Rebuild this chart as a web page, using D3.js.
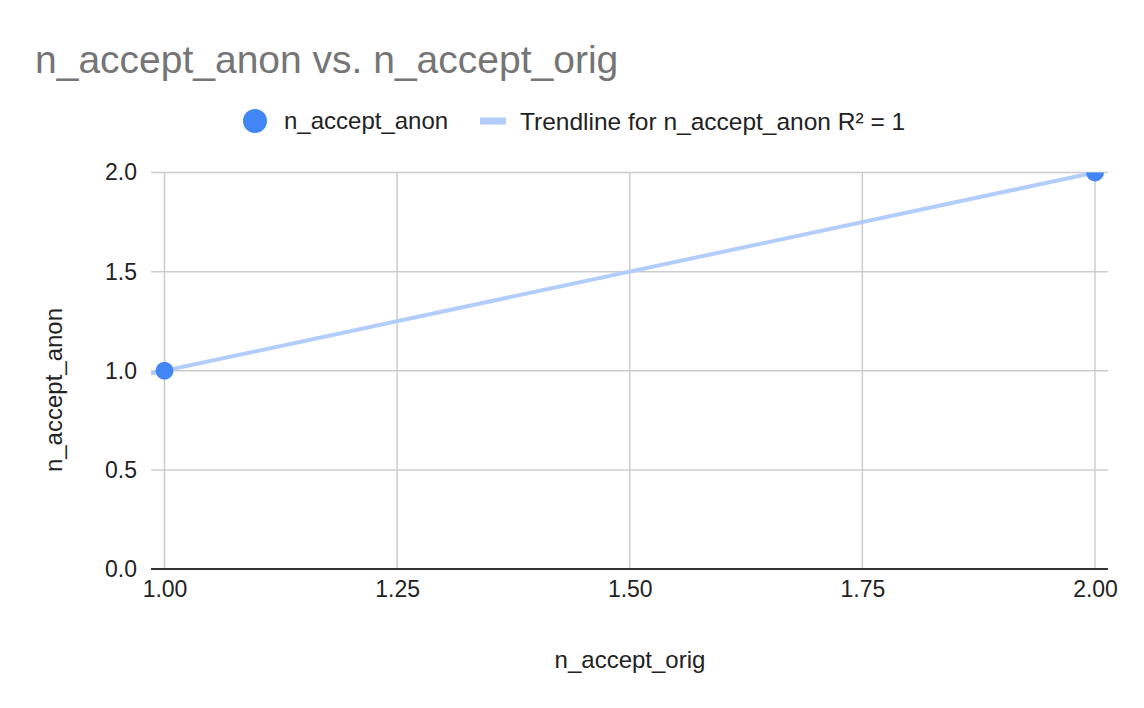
<!DOCTYPE html>
<html>
<head>
<meta charset="utf-8">
<script src="https://cdn.jsdelivr.net/npm/d3@7"></script>
<style>
  html, body { margin: 0; padding: 0; background: #fff; }
  svg { display: block; font-family: "Liberation Sans", Arial, sans-serif; }
</style>
</head>
<body>
<svg id="chart" width="1144" height="708"></svg>
<script>
// ---- data ----
const xValues = [1, 2];          // n_accept_orig
const yValues = [1, 2];          // n_accept_anon
const xTicks = [1.00, 1.25, 1.50, 1.75, 2.00];
const yTicks = [0, 0.5, 1.0, 1.5, 2.0];
const titleText = "n_accept_anon vs. n_accept_orig";
const seriesName = "n_accept_anon";
const trendName = "Trendline for n_accept_anon R² = 1";
const xTitle = "n_accept_orig";
const yTitle = "n_accept_anon";

// ---- layout ----
const W = 1144, H = 708;
const plot = { left: 151, right: 1108, top: 172.5, bottom: 569 };
const svg = d3.select("#chart");

const x = d3.scaleLinear().domain([1, 2]).range([164.5, 1095]);
const y = d3.scaleLinear().domain([0, 2]).range([569, 172.5]);

// title
svg.append("text").attr("x", 35).attr("y", 73)
  .attr("font-size", 39).attr("fill", "#757575").text(titleText);

// legend
const legY = 121;
svg.append("circle").attr("cx", 255).attr("cy", legY).attr("r", 12).attr("fill", "#4285f4");
svg.append("text").attr("x", 284).attr("y", legY).attr("dy", "0.35em")
  .attr("font-size", 24).attr("fill", "#222").text(seriesName);
svg.append("rect").attr("x", 480).attr("y", legY - 3.5).attr("width", 26).attr("height", 7)
  .attr("fill", "#b3cdfb");
svg.append("text").attr("x", 520).attr("y", legY).attr("dy", "0.35em")
  .attr("font-size", 24.5).attr("fill", "#222").text(trendName);

// clip
svg.append("defs").append("clipPath").attr("id", "clip")
  .append("rect").attr("x", plot.left).attr("y", plot.top)
  .attr("width", plot.right - plot.left).attr("height", plot.bottom - plot.top);

// gridlines
const grid = svg.append("g");
grid.selectAll(".hg").data(yTicks.filter(d => d !== 0)).enter().append("line")
  .attr("x1", plot.left).attr("x2", plot.right)
  .attr("y1", d => y(d)).attr("y2", d => y(d))
  .attr("stroke", "#cccccc").attr("stroke-width", 1.5);
grid.selectAll(".vg").data(xTicks).enter().append("line")
  .attr("x1", d => x(d)).attr("x2", d => x(d))
  .attr("y1", plot.top).attr("y2", plot.bottom)
  .attr("stroke", "#cccccc").attr("stroke-width", 1.5);

// axes labels via d3 axes
const yAxis = svg.append("g").attr("transform", `translate(${plot.left - 14},0)`)
  .call(d3.axisLeft(y).tickValues(yTicks).tickFormat(d3.format(".1f")).tickSize(0).tickPadding(0));
yAxis.select(".domain").remove();
yAxis.selectAll("text").attr("font-size", 23).attr("fill", "#222")
  .attr("font-family", "Liberation Sans, Arial, sans-serif");

const xAxis = svg.append("g").attr("transform", `translate(0,${plot.bottom + 12})`)
  .call(d3.axisBottom(x).tickValues(xTicks).tickFormat(d3.format(".2f")).tickSize(0).tickPadding(0));
xAxis.select(".domain").remove();
xAxis.selectAll("text").attr("font-size", 23).attr("fill", "#222")
  .attr("font-family", "Liberation Sans, Arial, sans-serif");

// baseline axis
svg.append("line").attr("x1", plot.left).attr("x2", plot.right)
  .attr("y1", y(0)).attr("y2", y(0)).attr("stroke", "#333").attr("stroke-width", 2);

// trendline (least squares)
const mx = d3.mean(xValues), my = d3.mean(yValues);
const sxy = d3.sum(xValues.map((v, i) => (v - mx) * (yValues[i] - my)));
const sxx = d3.sum(xValues.map(v => (v - mx) ** 2));
const slope = sxy / sxx, intercept = my - slope * mx;
const xd0 = x.invert(plot.left), xd1 = x.invert(plot.right);
const g = svg.append("g").attr("clip-path", "url(#clip)");
g.append("line")
  .attr("x1", x(xd0)).attr("y1", y(intercept + slope * xd0))
  .attr("x2", x(xd1)).attr("y2", y(intercept + slope * xd1))
  .attr("stroke", "#b3cdfb").attr("stroke-width", 4);

// points
g.selectAll(".pt").data(xValues.map((v, i) => [v, yValues[i]])).enter().append("circle")
  .attr("cx", d => x(d[0])).attr("cy", d => y(d[1])).attr("r", 9).attr("fill", "#4285f4");

// axis titles
svg.append("text").attr("x", 630).attr("y", 668).attr("text-anchor", "middle")
  .attr("font-size", 24).attr("fill", "#222").text(xTitle);
svg.append("text").attr("transform", "translate(62,390) rotate(-90)").attr("text-anchor", "middle")
  .attr("font-size", 24).attr("fill", "#222").text(yTitle);
</script>
</body>
</html>
